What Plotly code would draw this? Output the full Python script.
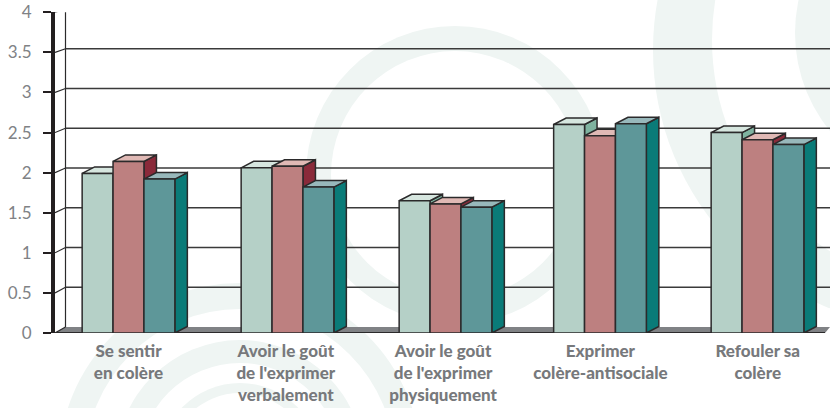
import plotly.graph_objects as go

categories = ["Se sentir<br>en colère", "Avoir le goût<br>de l'exprimer<br>verbalement",
              "Avoir le goût<br>de l'exprimer<br>physiquement", "Exprimer<br>colère-antisociale",
              "Refouler sa<br>colère"]
serie_a = [1.99, 2.06, 1.65, 2.60, 2.50]
serie_b = [2.14, 2.08, 1.61, 2.46, 2.41]
serie_c = [1.92, 1.82, 1.57, 2.61, 2.35]
y_ticks = [0, 0.5, 1, 1.5, 2, 2.5, 3, 3.5, 4]
y_labels = ["0", "0.5", "1", "1.5", "2", "2.5", "3", "3.5", "4"]

# ---- layout constants (pixels of the 830x408 page)
W, H = 830, 408
AX_L, Y0_PX, Y4_PX = 55, 333, 12.3
X0_PX, UNIT = 128.5, 157.3          # reference frame of the x axis
GROUP_SHIFT_PX = [0, 1.7, 2.4, -0.4, -0.2]   # nudge of each group against even spacing
YU = (Y0_PX - Y4_PX) / 4
BAR_W = 30.9
DEPTH_X, DEPTH_Y = 12.5, 6.5        # bar depth
WALL_X = 65.5                       # back wall left edge

def ux(px):
    return (px - X0_PX) / UNIT

def back_y(v):                       # value on the back wall, in value units
    return ((Y0_PX - 327) + 79.5 * v) / YU

DARK = "#2b2a2b"
fronts = ["#b5d0c7", "#bd8080", "#5e9799"]
tops = ["#d6e6df", "#e0b9b5", "#98b8bb"]
sides = ["#7fb3a0", "#8a2a3a", "#0a7b78"]
series = [serie_a, serie_b, serie_c]
names = ["Série 1", "Série 2", "Série 3"]
centres = [i + GROUP_SHIFT_PX[i] / UNIT for i in range(len(categories))]

fig = go.Figure()

def poly(xs, ys, fill, lw=1.5, line=DARK):
    fig.add_trace(go.Scatter(x=xs + xs[:1], y=ys + ys[:1], mode="lines", fill="toself",
                             fillcolor=fill, line=dict(color=line, width=lw), cliponaxis=False,
                             hoverinfo="skip", showlegend=False, xaxis="x", yaxis="y"))

def seg(xs, ys, color=DARK, lw=1.5):
    fig.add_trace(go.Scatter(x=xs, y=ys, mode="lines", line=dict(color=color, width=lw),
                             cliponaxis=False, hoverinfo="skip", showlegend=False,
                             xaxis="x", yaxis="y"))

# floor
poly([ux(AX_L), ux(825), ux(W), ux(WALL_X)], [0, 0, back_y(0), back_y(0)], "#808285", lw=0)
seg([ux(AX_L), ux(825)], [0, 0], lw=2)
# back wall
seg([ux(WALL_X), ux(WALL_X)], [back_y(0), back_y(4)], lw=1.2)
for t in y_ticks:
    if t > 0:
        seg([ux(WALL_X), ux(W)], [back_y(t), back_y(t)], color="#3a3a3a", lw=1.5)
    seg([ux(AX_L), ux(WALL_X)], [t, back_y(t)], lw=1.2)

# top and side faces, left to right
dx = DEPTH_X / UNIT
dy = DEPTH_Y / YU
bw = BAR_W / UNIT
for g, c in enumerate(centres):
    for s in range(3):
        v = series[s][g]
        left = c + (s - 1.5) * bw
        right = left + bw
        poly([right, right + dx, right + dx, right], [0, dy, v + dy, v], sides[s])
        poly([left, right, right + dx, left + dx], [v, v, v + dy, v + dy], tops[s])

# front faces
for s in range(3):
    fig.add_trace(go.Bar(x=centres, y=series[s], name=names[s],
                         width=bw, offset=(s - 1.5) * bw,
                         marker=dict(color=fronts[s], line=dict(color=DARK, width=1.5)),
                         showlegend=False, xaxis="x2", yaxis="y2"))

# pale watermark rings
def circle(cx, cy, r, fill):
    return dict(type="circle", xref="paper", yref="paper", layer="below",
                x0=(cx - r) / W, x1=(cx + r) / W, y0=1 - (cy + r) / H, y1=1 - (cy - r) / H,
                fillcolor=fill, line=dict(width=0))

PALE = "#eff5f3"
shapes = [
    circle(455, 175, 149, PALE), circle(455, 175, 124, "white"),
    circle(240, 464, 181, PALE), circle(240, 464, 155, "white"),
    circle(240, 464, 124, PALE), circle(240, 464, 101, "white"),
    circle(240, 464, 81, PALE), circle(240, 464, 71, "white"),
    circle(930, 50, 277, PALE), circle(960, 40, 248, "white"),
    circle(950, 33, 155, PALE),
]

x_range = [ux(AX_L), ux(W)]
dom_x = [AX_L / W, 1]
dom_y = [1 - Y0_PX / H, 1 - Y4_PX / H]
fig.update_layout(
    width=W, height=H, margin=dict(l=0, r=0, t=0, b=0),
    paper_bgcolor="white", plot_bgcolor="rgba(0,0,0,0)", shapes=shapes,
    barmode="overlay", showlegend=False, hovermode=False,
    font=dict(family="Lato", color="#808285"),
    xaxis=dict(domain=dom_x, range=x_range, tickmode="array", automargin=False,
               tickvals=list(range(len(categories))), ticktext=categories,
               showgrid=False, zeroline=False, showline=False, ticks="",
               ticklabelstandoff=6,
               tickfont=dict(family="Lato", size=17, color="#77797c", weight=900),
               tickangle=0),
    yaxis=dict(domain=dom_y, range=[0, 4], tickmode="array", tickvals=y_ticks, ticktext=y_labels,
               automargin=False,
               showgrid=False, zeroline=False, showline=True, linecolor="#231f20", linewidth=4,
               ticks="outside", ticklen=8, tickwidth=1.5, tickcolor="#231f20",
               ticklabelstandoff=8,
               tickfont=dict(family="Lato", size=17, color="#808285")),
    xaxis2=dict(domain=dom_x, range=x_range, overlaying="x", anchor="y2", visible=False),
    yaxis2=dict(domain=dom_y, range=[0, 4], overlaying="y", anchor="x2", visible=False),
)

fig.write_html("out.html", config=dict(displayModeBar=False),
               post_script="document.body.style.margin='0';document.documentElement.style.overflow='hidden';")
